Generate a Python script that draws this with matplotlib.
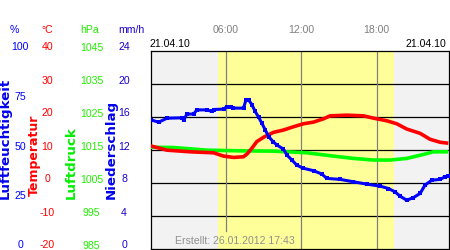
import matplotlib
matplotlib.use('Agg')
import matplotlib.pyplot as plt
from matplotlib.transforms import blended_transform_factory, offset_copy

# ---- data (hours of day, values) ----
hum_h = [0.0, 0.65, 1.31, 2.5, 2.63, 2.9, 3.43, 3.69, 4.49, 4.89, 5.02, 5.81, 6.08, 6.40,
         6.55, 7.40, 7.60, 7.80, 8.07, 8.33, 8.60, 8.86, 9.13, 9.40, 9.75, 10.05, 10.58,
         10.85, 11.25, 11.64, 12.17, 12.97, 13.63, 14.03, 15.09, 16.15, 17.21, 18.27,
         18.93, 19.46, 19.86, 20.39, 20.92, 21.45, 21.84, 22.38, 23.04, 23.43, 23.70]
hum_v = [65.0, 63.8, 65.8, 66.0, 64.8, 67.9, 67.9, 70.0, 70.0, 69.2, 70.2, 70.4, 71.7, 71.7,
         70.9, 70.9, 75.1, 75.1, 72.6, 69.2, 66.3, 63.3, 59.9, 56.5, 54.0, 52.3, 50.2,
         47.2, 44.7, 42.1, 40.5, 39.3, 37.6, 35.4, 34.9, 33.7, 32.5, 31.5,
         30.3, 28.6, 26.4, 24.4, 25.7, 27.8, 32.0, 34.5, 34.9, 36.2, 36.5]

temp_h = [0.0, 1.31, 3.16, 5.02, 5.81, 6.61, 7.40, 7.67, 8.07, 8.46, 8.99, 9.79, 10.58,
          11.38, 12.17, 12.97, 13.76, 14.29, 15.62, 16.94, 17.74, 18.80, 19.59, 20.39,
          21.45, 22.24, 23.04, 23.70]
temp_v = [11.1, 9.8, 9.3, 9.0, 8.0, 7.6, 7.8, 8.6, 10.4, 12.4, 13.7, 15.2, 15.9,
          16.9, 17.8, 18.3, 19.3, 20.2, 20.4, 20.2, 19.5, 18.7, 17.8, 16.2,
          14.9, 13.1, 12.2, 11.9]

pres_h = [0.0, 1.84, 4.49, 7.14, 9.79, 12.44, 14.56, 16.15, 17.74, 19.06, 20.39, 21.71,
          22.50, 23.70]
pres_v = [1015.7, 1015.6, 1014.8, 1014.6, 1014.5, 1014.0, 1013.0, 1012.3, 1011.8, 1011.8,
          1012.3, 1013.5, 1014.3, 1014.3]

hum_ticks = [100, 75, 50, 25, 0]
temp_ticks = [40, 30, 20, 10, 0, -10, -20]
pres_ticks = [1045, 1035, 1025, 1015, 1005, 995, 985]
prec_ticks = [24, 20, 16, 12, 8, 4, 0]
grid_temps = [30, 20, 10, 0, -10]
time_ticks = [6, 12, 18]
time_labels = ['06:00', '12:00', '18:00']
day_start, day_end = 5.37, 19.38
date_label = '21.04.10'
created = 'Erstellt: 26.01.2012 17:43'

W, H = 450, 250
fig = plt.figure(figsize=(4.5, 2.5), dpi=100)
fig.patch.set_facecolor('white')


def fx(px):
    return px / W


def fy(py):
    return 1 - py / H


ax = fig.add_axes([fx(150.5), fy(248.5), fx(449) - fx(150.5), fy(50.5) - fy(248.5)])
ax.set_xlim(0, 23.75)
ax.set_ylim(-20, 40)
ax.set_facecolor('#f2f2f2')
ax.axvspan(day_start, day_end, color='#ffff99', lw=0, zorder=0)
for t in grid_temps:
    ax.axhline(t, color='black', lw=0.9, zorder=1)
for i, t in enumerate(time_ticks):
    ax.axvline(t, ymin=0.09 if i == 0 else 0, ymax=1, color='#808080', lw=0.9, zorder=1)
ax.set_xticks([])
ax.set_yticks([])
for s in ax.spines.values():
    s.set_color('black')
    s.set_linewidth(0.9)

ax_p = ax.twinx()
ax_p.set_ylim(985, 1045)
ax_t = ax.twinx()
ax_t.set_ylim(-20, 40)
ax_h = ax.twinx()
ax_h.set_ylim(0, 100)
ax_r = ax.twinx()
ax_r.set_ylim(0, 24)
for a in (ax_p, ax_t, ax_h, ax_r):
    a.set_xlim(0, 23.75)
    a.set_yticks([])
    a.set_xticks([])
    for s in a.spines.values():
        s.set_visible(False)

ax_p.plot(pres_h, pres_v, color='#00ff00', lw=2.6, solid_capstyle='butt')
ax_t.plot(temp_h, temp_v, color='#ff0000', lw=2.6, solid_capstyle='butt')
ax_h.plot(hum_h, hum_v, color='#0000ff', lw=2.2, marker='s', ms=2.6, mew=0,
          drawstyle='default')

lab_font = dict(family=['Liberation Sans', 'DejaVu Sans'], fontsize=7.6)


def tick_labels(axis, ticks, xpix, color):
    tr = offset_copy(blended_transform_factory(fig.transFigure, axis.transData),
                     fig=fig, y=3, units='dots')
    for v in ticks:
        fig.text(fx(xpix), v, str(v), transform=tr, ha='center', va='center',
                 color=color, **lab_font)


tick_labels(ax_h, hum_ticks, 20, '#0000ff')
tick_labels(ax_t, temp_ticks, 47.5, '#ff0000')
tick_labels(ax_p, pres_ticks, 91.5, '#22ee00')
tick_labels(ax_r, prec_ticks, 124, '#1a00cc')

# unit headers
fig.text(fx(14), fy(30), '%', color='#0000ff', ha='center', va='center', **lab_font)
fig.text(fx(46.7), fy(30), '°C', color='#ff0000', ha='center', va='center', **lab_font)
fig.text(fx(90), fy(30), 'hPa', color='#22ee00', ha='center', va='center', **lab_font)
fig.text(fx(131.7), fy(30), 'mm/h', color='#1a00cc', ha='center', va='center', **lab_font)

# rotated axis titles
rot_font = dict(family='DejaVu Sans', fontweight='bold', rotation=90,
                ha='center', va='bottom')
fig.text(fx(5.5), fy(199), 'Luftfeuchtigkeit', color='#0000ee', fontsize=9.6, **rot_font)
fig.text(fx(34), fy(196), 'Temperatur', color='#ff0000', fontsize=9.0, **rot_font)
fig.text(fx(71.7), fy(199), 'Luftdruck', color='#00ee00', fontsize=9.6, **rot_font)
fig.text(fx(111), fy(199), 'Niederschlag', color='#0000ee', fontsize=9.6, **rot_font)

# time labels
trx = blended_transform_factory(ax.transData, fig.transFigure)
for t, l in zip(time_ticks, time_labels):
    fig.text(t, fy(30), l, transform=trx, ha='center', va='center', color='#808080',
             **lab_font)

fig.text(fx(150), fy(44), date_label, ha='left', va='center', color='black', **lab_font)
fig.text(fx(446.5), fy(44), date_label, ha='right', va='center', color='black', **lab_font)
fig.text(fx(175), fy(241), created, ha='left', va='center', color='#909090', **lab_font)

fig.savefig('out.png', dpi=100)
